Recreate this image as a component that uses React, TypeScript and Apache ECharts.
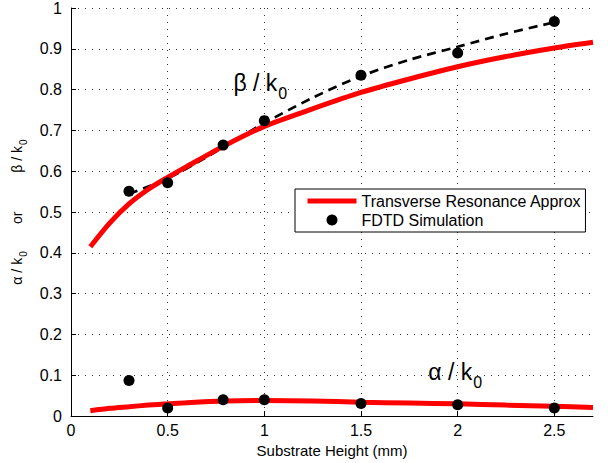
import React, { useEffect, useRef } from 'react';
import * as echarts from 'echarts';

const xTickValues = [0, 0.5, 1, 1.5, 2, 2.5];

const approxX = [0.1, 0.2, 0.3, 0.4, 0.5, 0.6, 0.8, 1.0, 1.25, 1.5, 1.75, 2.0, 2.25, 2.5, 2.7];
const approxBeta = [0.415, 0.473, 0.52, 0.556, 0.585, 0.612, 0.664, 0.71, 0.753, 0.793, 0.826, 0.856, 0.881, 0.902, 0.916];
const approxAlpha = [0.013, 0.019, 0.023, 0.027, 0.03, 0.033, 0.037, 0.038, 0.037, 0.034, 0.032, 0.03, 0.027, 0.024, 0.021];

const fdtdX = [0.3, 0.5, 0.787, 1.0, 1.5, 2.0, 2.5];
const fdtdBeta = [0.551, 0.572, 0.664, 0.724, 0.835, 0.89, 0.967];
const fdtdAlpha = [0.087, 0.02, 0.04, 0.04, 0.031, 0.028, 0.02];

const fitX = [0.3, 0.5, 0.8, 1.0, 1.25, 1.5, 1.75, 2.0, 2.25, 2.5];
const fitBeta = [0.545, 0.582, 0.662, 0.718, 0.78, 0.833, 0.873, 0.905, 0.937, 0.965];

const betaLabelPos = [0.84, 0.816];
const alphaLabelPos = [1.848, 0.107];

const FONT = '"Liberation Sans", Arial, Helvetica, sans-serif';

export default function App() {
  const ref = useRef<HTMLDivElement>(null);
  useEffect(() => {
    if (!ref.current) return;
    const chart = echarts.init(ref.current, null, { renderer: 'svg' });
    const zip = (xs: number[], ys: number[]) => xs.map((x, i) => [x, ys[i]]);
    const annRich = {
      m: { fontSize: 23, lineHeight: 24, verticalAlign: 'top', color: '#000', fontFamily: FONT },
      s: { fontSize: 16, lineHeight: 15, verticalAlign: 'top', padding: [14, 0, 0, 1], color: '#000', fontFamily: FONT },
    };
    const option: any = {
      animation: false,
      backgroundColor: '#fff',
      textStyle: { fontFamily: FONT },
      grid: { left: 71, right: 15, top: 6, bottom: 45, containLabel: false },
      legend: {
        data: [
          {
            name: 'Transverse Resonance Approx',
            itemStyle: { opacity: 0 },
            lineStyle: { width: 5, color: '#ff0000', opacity: 1 },
          },
          { name: 'FDTD Simulation', icon: 'circle', itemStyle: { color: '#000', opacity: 1 } },
        ],
        orient: 'vertical',
        left: 295,
        top: 189,
        padding: [4, 4, 4, 10],
        itemWidth: 49,
        itemHeight: 11,
        itemGap: 3,
        backgroundColor: '#fff',
        borderColor: '#000',
        borderWidth: 1,
        borderRadius: 0,
        selectedMode: false,
        textStyle: { fontSize: 16, color: '#000', fontFamily: FONT },
      },
      xAxis: {
        type: 'value',
        min: 0,
        max: 2.7,
        interval: 0.5,
        name: 'Substrate Height (mm)',
        nameLocation: 'middle',
        nameGap: 26,
        nameTextStyle: { fontSize: 15, color: '#000', fontFamily: FONT },
        axisLine: { show: true, onZero: false, lineStyle: { color: '#000', width: 1 } },
        axisTick: { show: true, inside: true, length: 5, customValues: xTickValues, lineStyle: { color: '#000' } },
        axisLabel: { fontSize: 16, color: '#000', margin: 6, customValues: xTickValues, fontFamily: FONT },
        splitLine: { show: true, lineStyle: { color: '#333', type: [1, 6], width: 1 } },
      },
      yAxis: {
        type: 'value',
        min: 0,
        max: 1,
        interval: 0.1,
        name: '{m|α / k}{s|0}{m|       or          β / k}{s|0}',
        nameLocation: 'middle',
        nameGap: 40,
        nameTextStyle: {
          color: '#000',
          rich: {
            m: { fontSize: 14, lineHeight: 16, verticalAlign: 'top', color: '#000', fontFamily: FONT },
            s: { fontSize: 10, lineHeight: 10, verticalAlign: 'top', padding: [9, 0, 0, 1], color: '#000', fontFamily: FONT },
          },
        },
        axisLine: { show: true, onZero: false, lineStyle: { color: '#000', width: 1 } },
        axisTick: { show: true, inside: true, length: 5, lineStyle: { color: '#000' } },
        axisLabel: { fontSize: 16, color: '#000', margin: 9, fontFamily: FONT },
        splitLine: { show: true, lineStyle: { color: '#333', type: [1, 6], width: 1 } },
      },
      series: [
        {
          name: 'fit',
          type: 'line',
          data: zip(fitX, fitBeta),
          smooth: 0.3,
          symbol: 'none',
          lineStyle: { color: '#000', width: 2.7, type: [9, 6] },
          z: 2,
          silent: true,
        },
        {
          name: 'Transverse Resonance Approx',
          type: 'line',
          data: zip(approxX, approxBeta),
          smooth: 0.3,
          symbol: 'none',
          color: '#ff0000',
          lineStyle: { color: '#ff0000', width: 5 },
          z: 3,
        },
        {
          name: 'Transverse Resonance Approx',
          type: 'line',
          data: zip(approxX, approxAlpha),
          smooth: 0.3,
          symbol: 'none',
          color: '#ff0000',
          lineStyle: { color: '#ff0000', width: 5 },
          z: 3,
        },
        {
          name: 'FDTD Simulation',
          type: 'scatter',
          data: [...zip(fdtdX, fdtdBeta), ...zip(fdtdX, fdtdAlpha)],
          symbol: 'circle',
          symbolSize: 11,
          color: '#000',
          itemStyle: { color: '#000', opacity: 1 },
          z: 4,
        },
        {
          name: 'annotations',
          type: 'scatter',
          symbolSize: 0,
          silent: true,
          z: 5,
          itemStyle: { color: '#000', opacity: 1 },
          data: [
            { value: betaLabelPos, label: { formatter: '{m|β / k}{s|0}' } },
            { value: alphaLabelPos, label: { formatter: '{m|α / k}{s|0}' } },
          ],
          label: { show: true, position: 'right', distance: 0, fontSize: 23, color: '#000', opacity: 1, rich: annRich },
        },
      ],
    };
    chart.setOption(option);
    return () => chart.dispose();
  }, []);
  return (
    <div
      ref={ref}
      style={{ position: 'absolute', left: 0, top: 0, width: 608, height: 463 }}
    />
  );
}
